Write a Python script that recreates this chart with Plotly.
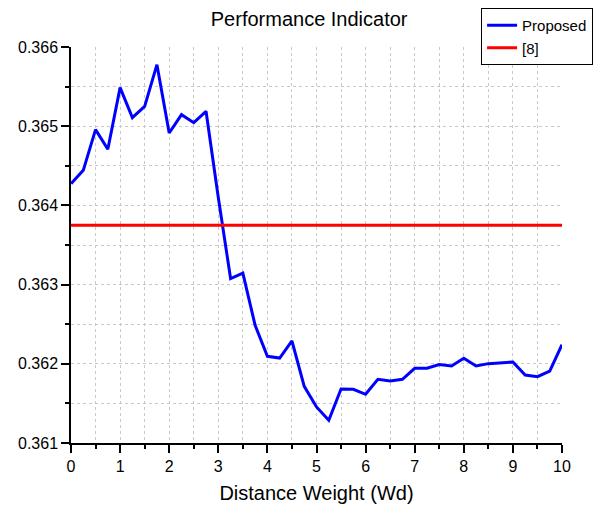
import plotly.graph_objects as go

wd = [i * 0.25 for i in range(41)]
proposed = [0.364275, 0.364443, 0.364957, 0.364708, 0.365487, 0.365108, 0.365251, 0.365777,
            0.364914, 0.365146, 0.365045, 0.365188, 0.364100, 0.363076, 0.363146, 0.362486,
            0.362095, 0.362073, 0.362288, 0.361716, 0.361455, 0.361287, 0.361682, 0.361678,
            0.361615, 0.361804, 0.361783, 0.361804, 0.361943, 0.361943, 0.361990, 0.361972,
            0.362070, 0.361972, 0.362002, 0.362015, 0.362023, 0.361859, 0.361838, 0.361909,
            0.362242]
ref8_value = 0.36375
ref8 = [ref8_value] * len(wd)

x_ticks = list(range(0, 11))
y_ticks = [0.361, 0.362, 0.363, 0.364, 0.365, 0.366]

font_family = "Liberation Sans, Arial, sans-serif"

fig = go.Figure()
fig.add_trace(go.Scatter(x=wd, y=proposed, mode="lines", name="Proposed",
                         line=dict(color="#0000ff", width=3)))
fig.add_trace(go.Scatter(x=wd, y=ref8, mode="lines", name="[8]",
                         line=dict(color="#ff0000", width=3)))

axis_common = dict(
    showline=True, linecolor="black", linewidth=1.5,
    ticks="outside", ticklen=8, tickwidth=1.5, tickcolor="black",
    showgrid=False, zeroline=False, automargin=False,
    tickfont=dict(family=font_family, size=16, color="black"),
)

fig.update_xaxes(
    range=[0, 10], tickvals=x_ticks, ticktext=[str(v) for v in x_ticks],
    title=dict(text="Distance Weight (Wd)", font=dict(family=font_family, size=20, color="black"), standoff=12),
    minor=dict(dtick=0.5, tick0=0, ticks="outside", ticklen=4, tickwidth=1.5, tickcolor="black",
               showgrid=True, gridcolor="#c8c8c8", griddash="dot", gridwidth=1),
    **axis_common,
)
fig.update_yaxes(
    range=[0.361, 0.366], tickvals=y_ticks, ticktext=[f"{v:.3f}" for v in y_ticks],
    minor=dict(dtick=0.0005, tick0=0.361, ticks="outside", ticklen=4, tickwidth=1.5, tickcolor="black",
               showgrid=True, gridcolor="#c8c8c8", griddash="dot", gridwidth=1),
    **axis_common,
)

fig.update_layout(
    width=594, height=500,
    margin=dict(l=63, r=40, t=39, b=65, autoexpand=False),
    paper_bgcolor="white", plot_bgcolor="white",
    title=dict(text="Performance Indicator", x=0.507, xanchor="center", y=0.978, yanchor="middle",
               font=dict(family=font_family, size=20, color="black")),
    showlegend=True,
    legend=dict(x=0.985, xanchor="right", y=1.0, yanchor="top", xref="container", yref="container",
                bgcolor="white", bordercolor="black", borderwidth=1,
                font=dict(family=font_family, size=15, color="black"),
                tracegroupgap=0, itemwidth=30),
)

fig.write_html("out.html")
